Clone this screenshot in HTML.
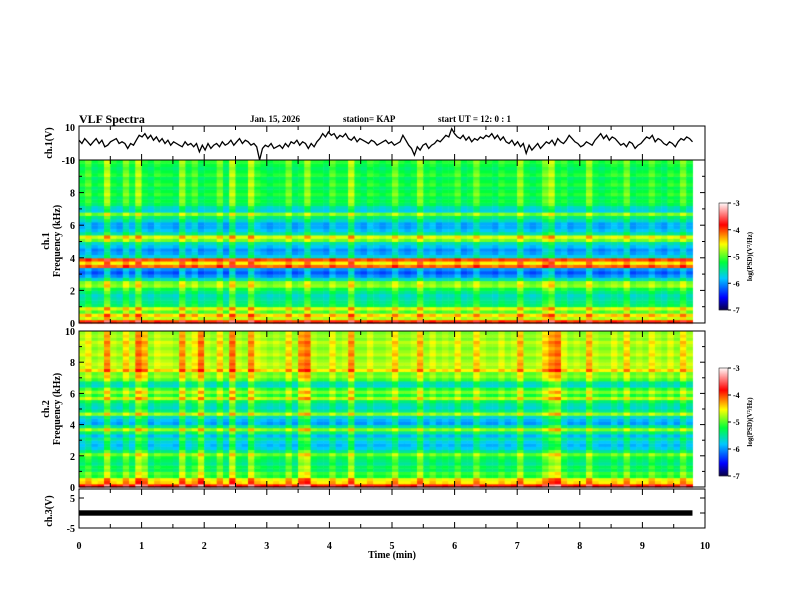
<!DOCTYPE html>
<html><head><meta charset="utf-8"><style>
body{margin:0;background:#fff;width:792px;height:612px;overflow:hidden;position:relative;font-family:"Liberation Serif",serif}
svg,canvas{position:absolute;left:0;top:0}
</style></head><body>
<canvas id="cv" width="792" height="612"></canvas>
<svg id="sv" width="792" height="612" font-family="Liberation Serif, serif" font-weight="bold"></svg>
<script>
// ---------- data ----------
const timeTicks=[0,1,2,3,4,5,6,7,8,9,10];
const freqTicks=[0,2,4,6,8,10];
const cbTicks=[-3,-4,-5,-6,-7];
// ch1 waveform (V), spread over 0..9.8 min
const ch1=[2,0,3,1,-1,1,3,0,2,-2,-1,1,2,3,0,1,0,-3,0,-1,2,5,4,6,3,5,2,4,1,3,0,2,-1,1,0,-1,-2,1,-1,0,-2,0,-5,-1,-4,0,-3,-1,0,-2,1,-1,0,2,-1,1,3,0,2,1,-1,0,-2,-10,-3,-1,-2,0,-3,-2,-1,-3,0,-2,1,0,2,-1,1,0,-3,0,-2,1,3,6,4,7,5,6,3,5,4,6,3,2,4,1,3,2,1,0,2,1,-1,0,1,2,0,1,-1,0,1,5,2,-1,-3,-7,-2,-4,-1,0,-3,-1,0,2,1,3,5,4,9,6,4,3,5,2,4,1,3,2,4,3,5,4,6,3,5,2,4,1,0,2,-1,1,-2,0,-6,-1,-4,-2,0,-3,-1,1,0,2,-1,3,1,0,2,5,3,1,0,-2,-1,1,0,-1,2,4,6,3,5,2,4,3,1,-1,0,-2,1,0,-3,-1,0,2,4,3,5,1,3,2,0,-1,1,0,-2,1,3,2,4,3,1];
// ch3 band (V)
const ch3=[0.9,0.9,0.9,0.9,0.9,0.9,0.9,0.9,0.9,0.9,0.9];
// spectrogram 1: band levels (0-10 kHz, 0.2 kHz steps, bottom up) and time offsets
const band1=[-4.0,-4.8,-4.5,-5.1,-4.7,-5.4,-5.5,-5.6,-5.7,-5.5,-5.3,-4.9,-5.0,-5.7,-6.1,-6.3,-6.1,-4.2,-4.6,-4.1,-5.8,-6.0,-6.1,-5.9,-5.7,-5.0,-4.7,-5.6,-5.9,-6.0,-6.0,-5.7,-5.5,-5.0,-5.8,-5.7,-5.4,-5.3,-5.4,-5.2,-5.3,-5.4,-5.2,-5.3,-5.4,-5.2,-5.3,-5.4,-5.3,-5.2];
const time1=[0.1,0.3,0.0,0.1,0.6,0.1,0.0,0.4,0.1,0.6,0.1,0.0,0.2,0.1,0.1,0.0,0.5,0.1,0.3,0.0,0.1,0.1,0.4,0.0,0.6,0.1,0.1,0.6,0.2,0.1,0.0,0.1,0.1,0.4,0.0,0.1,0.5,0.1,0.1,0.0,0.3,0.1,0.1,0.6,0.1,0.0,0.2,0.1,0.0,0.1,0.4,0.1,0.0,0.1,0.5,0.1,0.2,0.0,0.1,0.1,0.3,0.0,0.1,0.4,0.1,0.1,0.0,0.2,0.1,0.1,0.5,0.1,0.0,0.1,0.4,0.6,0.1,0.2,0.0,0.1,0.1,0.5,0.1,0.0,0.1,0.2,0.1,0.4,0.0,0.1,0.1,0.3,0.1,0.0,0.2,0.1,0.4,0.1];
const band2=[-4.0,-4.6,-4.7,-5.3,-5.2,-5.5,-5.4,-5.6,-5.5,-5.4,-5.1,-5.6,-5.9,-6.0,-5.9,-5.7,-6.0,-5.6,-5.0,-5.7,-6.1,-6.0,-5.8,-5.0,-5.6,-5.8,-5.7,-5.5,-4.9,-5.3,-5.0,-5.3,-5.8,-5.7,-5.2,-5.0,-5.1,-4.6,-4.9,-4.8,-4.9,-5.0,-4.8,-4.9,-5.0,-4.9,-4.8,-5.0,-4.9,-5.0];
const time2=[0.2,0.4,0.1,0.2,0.7,0.2,0.1,0.5,0.2,0.8,0.6,0.1,0.3,0.2,0.2,0.1,0.7,0.2,0.4,0.8,0.2,0.1,0.5,0.1,0.8,0.2,0.1,0.7,0.3,0.2,0.1,0.2,0.1,0.5,0.1,0.7,0.8,0.2,0.1,0.1,0.4,0.1,0.2,0.7,0.1,0.1,0.3,0.1,0.1,0.2,0.5,0.1,0.1,0.2,0.6,0.1,0.3,0.1,0.2,0.1,0.4,0.1,0.1,0.5,0.2,0.1,0.1,0.3,0.1,0.2,0.6,0.1,0.1,0.2,0.5,0.7,0.8,0.3,0.1,0.2,0.1,0.6,0.2,0.1,0.1,0.3,0.1,0.5,0.1,0.2,0.1,0.4,0.2,0.1,0.3,0.1,0.5,0.2];
// ---------- geometry ----------
const X0=79,X1=705;
const xs=t=>X0+(X1-X0)*t/10;
const P1={top:160,bot:323},P2={top:331,bot:487};
const yf=(P,f)=>P.bot-(P.bot-P.top)*f/10;
const y1=v=>143.5-16.5*v/10;
const y3=v=>513-15*v/5;
// ---------- colormap ----------
const stops=[[0,[10,0,60]],[0.12,[0,0,255]],[0.3,[0,200,255]],[0.45,[0,255,60]],[0.62,[255,255,0]],[0.8,[255,0,0]],[1,[255,245,245]]];
function cmap(v){let t=Math.max(0,Math.min(1,(v+7)/4));for(let i=1;i<stops.length;i++){if(t<=stops[i][0]){const a=stops[i-1],b=stops[i],k=(t-a[0])/(b[0]-a[0]);return 'rgb('+a[1].map((c,j)=>Math.round(c+(b[1][j]-c)*k)).join(',')+')';}}return 'rgb(255,245,245)';}
const cv=document.getElementById('cv'),ctx=cv.getContext('2d');
function spec(P,band,time){
  for(let i=0;i<time.length;i++){for(let j=0;j<band.length;j++){
    ctx.fillStyle=cmap(band[j]+time[i]);
    const xa=xs(i*0.1),xb=xs((i+1)*0.1),ya=yf(P,(j+1)*0.2),yb=yf(P,j*0.2);
    ctx.fillRect(xa,ya,xb-xa+0.5,yb-ya+0.5);}}
}
spec(P1,band1,time1);spec(P2,band2,time2);
function cbar(top,bot){for(let y=top;y<bot;y++){ctx.fillStyle=cmap(-3-4*(y-top)/(bot-top));ctx.fillRect(719,y,9,1);}}
cbar(203,310);cbar(368,476);
// ---------- svg ----------
const NS='http://www.w3.org/2000/svg',sv=document.getElementById('sv');
function el(tag,attrs,txt){const e=document.createElementNS(NS,tag);for(const k in attrs)e.setAttribute(k,attrs[k]);if(txt!==undefined)e.textContent=txt;sv.appendChild(e);return e;}
function frame(top,bot,name){const r=el('rect',{x:X0,y:top,width:X1-X0,height:bot-top,fill:'none',stroke:'#000','stroke-width':1});


for(let t=0;t<=10;t+=0.5){const x=xs(t),l=(t%1===0)?6:4;el('line',{x1:x,x2:x,y1:top,y2:top+l,stroke:'#000'});el('line',{x1:x,x2:x,y1:bot,y2:bot-l,stroke:'#000'});}}
frame(126,160,'ch1-frame');frame(P1.top,P1.bot,'spec1-frame');frame(P2.top,P2.bot,'spec2-frame');frame(489,528,'ch3-frame');
const step=9.8/(ch1.length-1);
let d='';ch1.forEach((v,i)=>{d+=(i?'L':'M')+xs(i*step).toFixed(1)+','+Math.max(126,Math.min(160,y1(v))).toFixed(1);});
const ln=el('path',{d:d,fill:'none',stroke:'#000','stroke-width':1.3});


const b3=el('rect',{x:X0,y:y3(ch3[0]),width:xs(9.8)-X0,height:y3(-ch3[0])-y3(ch3[0]),fill:'#000'});


function yt(x,y,t,anchor){el('text',{x:x,y:y+4,'font-size':10,'text-anchor':anchor||'end'},t);}
yt(75,127,'10');yt(75,160,'-10');
for(const P of [P1,P2]){freqTicks.forEach(f=>{const y=yf(P,f);yt(75,y,String(f));el('line',{x1:X0,x2:X0+5,y1:y,y2:y,stroke:'#000'});el('line',{x1:X1,x2:X1-5,y1:y,y2:y,stroke:'#000'});if(f<10){const ym=yf(P,f+1);el('line',{x1:X0,x2:X0+3,y1:ym,y2:ym,stroke:'#000'});el('line',{x1:X1,x2:X1-3,y1:ym,y2:ym,stroke:'#000'});}});}
yt(75,498,'5');yt(75,528,'-5');
[498,513,528].forEach(y=>{el('line',{x1:X0,x2:X0+5,y1:y,y2:y,stroke:'#000'});el('line',{x1:X1,x2:X1-5,y1:y,y2:y,stroke:'#000'});});
timeTicks.forEach(t=>{el('text',{x:xs(t),y:549,'font-size':10,'text-anchor':'middle'},String(t));});
el('text',{x:392,y:558,'font-size':10,'text-anchor':'middle'},'Time  (min)');
function vt(x,y,t,fs){el('text',{x:x,y:y,'font-size':fs||10,'text-anchor':'middle',transform:'rotate(-90 '+x+' '+y+')'},t);}
vt(52,143,'ch.1(V)');vt(49,241,'ch.1');vt(60,241,'Frequency  (kHz)');vt(49,409,'ch.2');vt(60,409,'Frequency  (kHz)');vt(52,511,'ch.3(V)');
for(const [top,bot] of [[203,310],[368,476]]){el('rect',{x:719,y:top,width:9,height:bot-top,fill:'none',stroke:'#000','stroke-width':0.5});cbTicks.forEach((v,i)=>{const y=top+(bot-top)*i/4;el('line',{x1:728,x2:731,y1:y,y2:y,stroke:'#000'});el('text',{x:733,y:y+3,'font-size':8},String(v));});vt(752,(top+bot)/2,'log(PSD)(V²/Hz)',7);}
el('text',{x:79,y:123,'font-size':12},'VLF Spectra');
el('text',{x:250,y:122,'font-size':9},'Jan. 15, 2026');
el('text',{x:343,y:122,'font-size':9},'station= KAP');
el('text',{x:438,y:122,'font-size':9},'start  UT =   12: 0  : 1');
</script>
</body></html>
